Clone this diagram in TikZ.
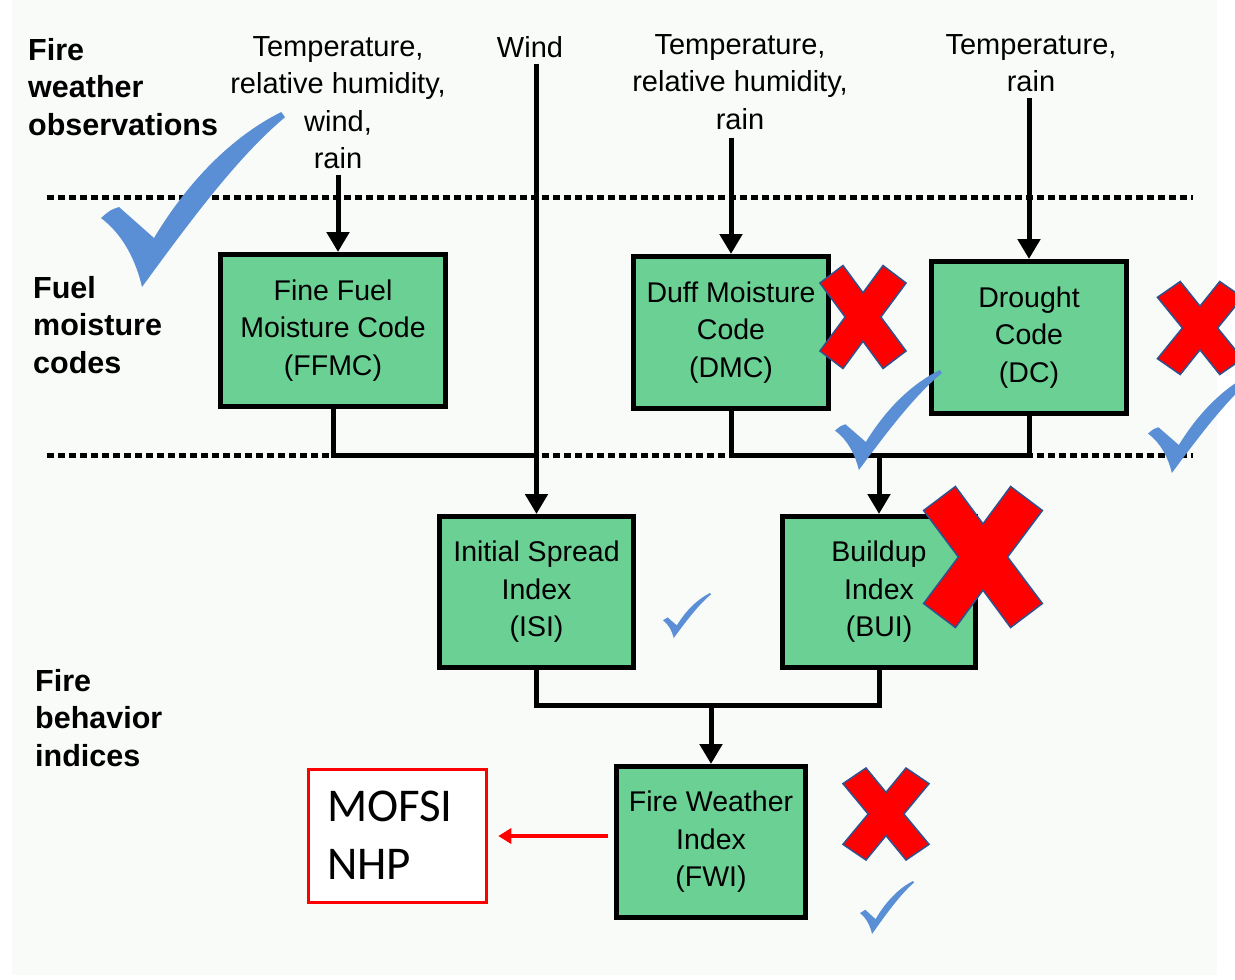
\documentclass[tikz,border=0pt]{standalone}
\usepackage{fontspec}
\setmainfont{Liberation Sans}
\newfontfamily\calib{Carlito}
\usetikzlibrary{arrows.meta}
\definecolor{boxgreen}{HTML}{6BD094}
\definecolor{chkblue}{HTML}{5A8FD6}
\definecolor{xred}{HTML}{FF0000}
\definecolor{xborder}{HTML}{2F528F}
\definecolor{panel}{HTML}{F9FBF9}
\tikzset{
  codebox/.style={draw=black, line width=5pt, fill=boxgreen, align=center,
    font=\fontsize{28.5}{37.5}\selectfont, inner sep=0pt},
  flow/.style={line width=5pt},
  flowarrow/.style={line width=5pt, -{Triangle[width=22pt,length=20pt]}},
  sep/.style={line width=5pt, dash pattern=on 7pt off 4pt},
  lbl/.style={font=\fontsize{29}{37.5}\selectfont, align=center, inner sep=0pt, anchor=north},
  head/.style={font=\bfseries\fontsize{30.5}{37.5}\selectfont, align=left, anchor=north west, inner sep=0pt},
  mofsibox/.style={draw=xred, line width=3.5pt, fill=white, minimum width=178pt, minimum height=133pt, inner sep=0pt},
  redarrow/.style={draw=xred, line width=3.5pt, -{Triangle[width=15pt,length=13pt]}},
  crossmark/.pic={\filldraw[fill=xred, draw=xborder, line width=1.5pt]
    (-0.99,-0.66) -- (-0.46,-1) -- (0,-0.47) -- (0.46,-1) -- (0.99,-0.66) -- (0.41,0)
    -- (0.99,0.66) -- (0.46,1) -- (0,0.47) -- (-0.46,1) -- (-0.99,0.66) -- (-0.41,0) -- cycle;},
  checkmark/.pic={\fill[chkblue]
    (0,0.606) .. controls (0.05,0.56) .. (0.098,0.543) -- (0.288,0.72)
    .. controls (0.5,0.35) and (0.75,0.12) .. (0.98,0) -- (1,0.03)
    .. controls (0.75,0.25) and (0.5,0.6) .. (0.223,1.0)
    .. controls (0.19,0.85) and (0.12,0.7) .. (0,0.606) -- cycle;}
}
\begin{document}
\begin{tikzpicture}[x=1pt,y=-1pt]
\useasboundingbox (0,0) rectangle (1235,980);
\clip (0,0) rectangle (1235,980);
\fill[white] (0,0) rectangle (1235,980);
\fill[panel] (12,0) rectangle (1217,975);

% separators
\draw[sep] (47,197) -- (1193,197);
\draw[sep] (47,455) -- (1193,455);

% headings
\node[head] (h1) at (28,38) {Fire\\weather\\observations};
\node[head] (h2) at (33,276) {Fuel\\moisture\\codes};
\node[head] (h3) at (35,669) {Fire\\behavior\\indices};

% inputs
\node[lbl] (obs1) at (338,36) {Temperature,\\relative humidity,\\wind,\\rain};
\node[lbl] (wind) at (530,36) {Wind};
\node[lbl] (obs2) at (740,34) {Temperature,\\relative humidity,\\rain};
\node[lbl] (obs3) at (1031,34) {Temperature,\\rain};

% boxes
\node[codebox, minimum width=225pt, minimum height=152pt] (ffmc) at (333,330.5) {Fine Fuel\\Moisture Code\\(FFMC)};
\node[codebox, minimum width=195pt, minimum height=152pt] (dmc) at (731,332.5) {Duff Moisture\\Code\\(DMC)};
\node[codebox, minimum width=195pt, minimum height=152pt] (dc) at (1029,337.5) {Drought\\Code\\(DC)};
\node[codebox, minimum width=194pt, minimum height=151pt] (isi) at (536.5,592) {Initial Spread\\Index\\(ISI)};
\node[codebox, minimum width=193pt, minimum height=151pt] (bui) at (879,592) {Buildup\\Index\\(BUI)};
\node[codebox, minimum width=189pt, minimum height=151pt] (fwi) at (711,842) {Fire Weather\\Index\\(FWI)};
\node[mofsibox] (mofsi) at (397.5,836) {};
\node[font=\calib\fontsize{47}{58}\selectfont, align=left, anchor=west, inner sep=0pt] (mtext) at (327,835) {MOFSI\\NHP};

% junctions
\coordinate (j1) at (536.5,455);
\coordinate (j2) at (879,455);
\coordinate (j3) at (711,705);

% connectors
\draw[flowarrow] ([yshift=-6pt]obs1.south) -- (obs1.south |- ffmc.north);
\draw[flowarrow] ([yshift=-6pt]isi.north |- wind.south) -- (isi.north);
\draw[flowarrow] ([yshift=-8pt]obs2.south -| dmc.north) -- (dmc.north);
\draw[flowarrow] ([yshift=-6pt]obs3.south -| dc.north) -- (dc.north);
\draw[flow] (ffmc.south) |- (j1);
\draw[flow] (dmc.south) |- (j2) -| (dc.south);
\draw[flowarrow] (j2) -- (bui.north);
\draw[flow] (isi.south) |- (j3) -| (bui.south);
\draw[flowarrow] (j3) -- (fwi.north);
\draw[redarrow, shorten <=6pt, shorten >=10pt] (fwi.west |- mofsi.east) -- (mofsi.east);

% marks
\pic[xscale=184, yscale=175] at (101,112) {checkmark};
\pic[xscale=107, yscale=100] at (835,370) {checkmark};
\pic[xscale=107, yscale=100] at (1148,373) {checkmark};
\pic[xscale=48, yscale=45] at (663,593) {checkmark};
\pic[xscale=54, yscale=53] at (860,881) {checkmark};
\pic[xscale=43.5, yscale=51.5] at (863,317) {crossmark};
\pic[xscale=43, yscale=46.5] at (1200,328) {crossmark};
\pic[xscale=60, yscale=70.5] at (983,557) {crossmark};
\pic[xscale=43.5, yscale=46] at (886,814) {crossmark};
\end{tikzpicture}
\end{document}
